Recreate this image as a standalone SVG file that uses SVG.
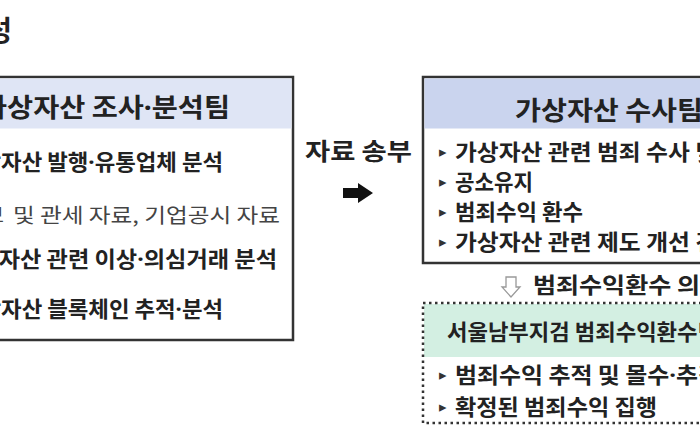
<svg xmlns="http://www.w3.org/2000/svg" width="700" height="440" viewBox="0 0 700 440">
  <style>
    text { font-family: "Noto Sans CJK KR", "Noto Sans", sans-serif; fill: #222; }
    .b { font-weight: bold; }
    .item { font-size: 22px; font-weight: bold; }
    .sub { font-size: 20px; font-weight: normal; fill: #444; }
    .hdr { font-size: 26px; font-weight: bold; }
    .bul { font-family: "DejaVu Sans", sans-serif; font-size: 15px; fill: #333; }
    .dot { font-family: "Noto Sans", sans-serif; }
    .box { fill: #fff; stroke: #333; stroke-width: 2.5; }
  </style>
  <rect width="700" height="440" fill="#fff"/>

  <text x="12" y="41" text-anchor="end" class="b" style="font-size:28px">성</text>

  <g id="node-analysis">
    <rect class="box" x="-20" y="77" width="313" height="263"/>
    <rect x="-18" y="78.5" width="309.5" height="50" fill="#dfe5f5"/>
    <text x="-19" y="117" class="hdr" textLength="249" lengthAdjust="spacingAndGlyphs">가상자산 조사<tspan class="dot">·</tspan>분석팀</text>
    <text x="-40" y="170" class="item" textLength="263" lengthAdjust="spacingAndGlyphs">가상자산 발행<tspan class="dot">·</tspan>유통업체 분석</text>
    <text x="4" y="223" text-anchor="end" class="sub">- 금융정보</text>
    <text x="13" y="223" class="sub" textLength="267" lengthAdjust="spacingAndGlyphs">및 관세 자료, 기업공시 자료</text>
    <text x="-44" y="267" class="item" textLength="321" lengthAdjust="spacingAndGlyphs">가상자산 관련 이상<tspan class="dot">·</tspan>의심거래 분석</text>
    <text x="-40" y="317" class="item" textLength="263" lengthAdjust="spacingAndGlyphs">가상자산 블록체인 추적<tspan class="dot">·</tspan>분석</text>
  </g>

  <g id="connectors">
    <text x="305" y="160" class="b" style="font-size:24px" textLength="107" lengthAdjust="spacingAndGlyphs">자료 송부</text>
    <polygon points="343,188 358,188 358,183 373,193 358,203 358,198 343,198" fill="#111"/>
    <polygon points="506,277 516,277 516,287 520,287 511,297 502,287 506,287" fill="#fff" stroke="#999" stroke-width="1.3"/>
    <text x="533" y="293" class="item" textLength="190" lengthAdjust="spacingAndGlyphs">범죄수익환수 의뢰</text>
  </g>

  <g id="node-investigation">
    <rect class="box" x="423" y="77" width="300" height="186"/>
    <rect x="424.5" y="78.5" width="297" height="50" fill="#cad4ee"/>
    <text x="515" y="120" class="hdr" textLength="188" lengthAdjust="spacingAndGlyphs">가상자산 수사팀</text>
    <text x="439" y="157" class="bul">▸</text>
    <text x="455" y="160" class="item" textLength="262" lengthAdjust="spacingAndGlyphs">가상자산 관련 범죄 수사 및</text>
    <text x="439" y="187" class="bul">▸</text>
    <text x="455" y="190" class="item" textLength="78" lengthAdjust="spacingAndGlyphs">공소유지</text>
    <text x="439" y="217" class="bul">▸</text>
    <text x="455" y="220" class="item" textLength="128" lengthAdjust="spacingAndGlyphs">범죄수익 환수</text>
    <text x="439" y="247" class="bul">▸</text>
    <text x="455" y="250" class="item" textLength="284" lengthAdjust="spacingAndGlyphs">가상자산 관련 제도 개선 건의</text>
  </g>

  <g id="node-recovery">
    <rect x="424" y="304" width="290" height="53" fill="#d3efe2"/>
    <rect x="423" y="303" width="300" height="120" fill="none" stroke="#333" stroke-width="2.5" stroke-dasharray="2.5 3.5"/>
    <text x="447" y="340" class="item" textLength="271" lengthAdjust="spacingAndGlyphs">서울남부지검 범죄수익환수팀</text>
    <text x="439" y="380" class="bul">▸</text>
    <text x="455" y="383" class="item" textLength="265" lengthAdjust="spacingAndGlyphs">범죄수익 추적 및 몰수<tspan class="dot">·</tspan>추징</text>
    <text x="439" y="412" class="bul">▸</text>
    <text x="455" y="415" class="item" textLength="202" lengthAdjust="spacingAndGlyphs">확정된 범죄수익 집행</text>
  </g>
</svg>
